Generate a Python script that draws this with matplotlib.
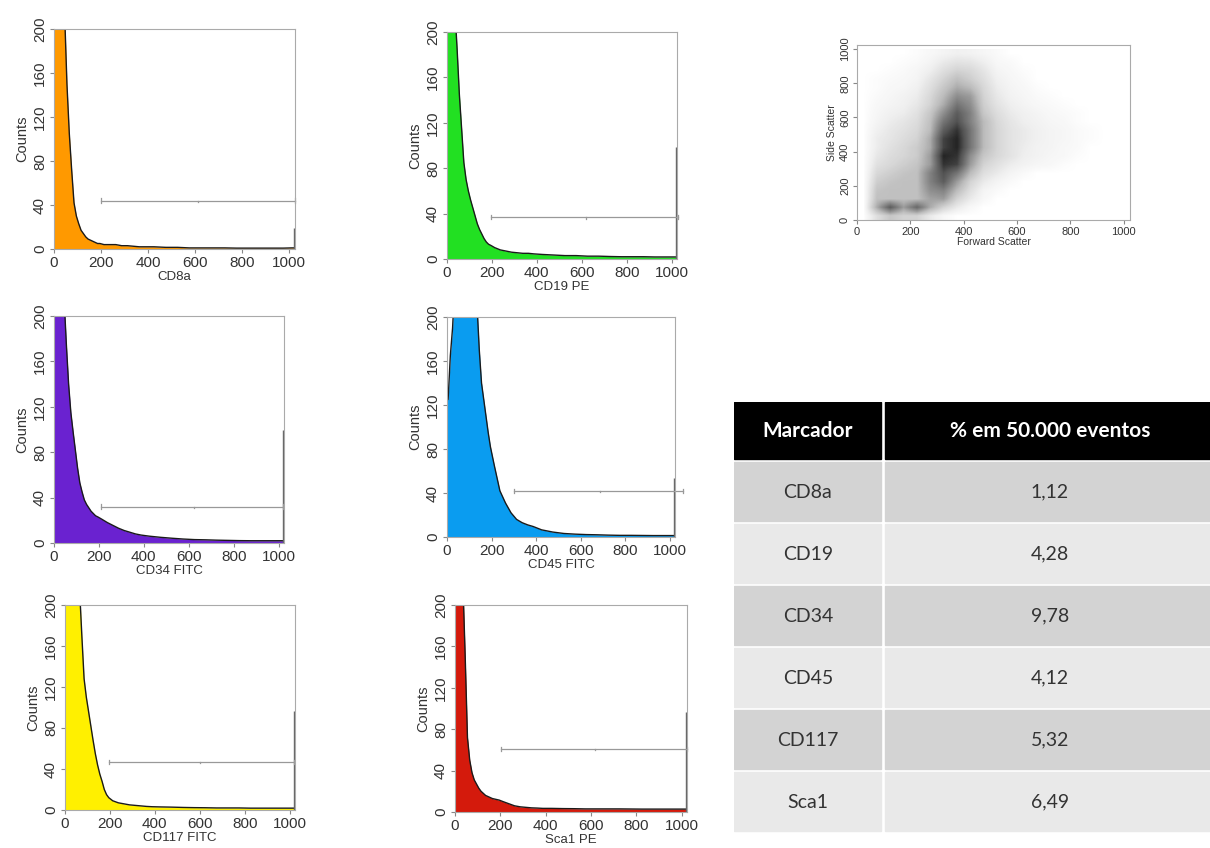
import numpy as np
import matplotlib.pyplot as plt
from matplotlib.patches import Rectangle
from matplotlib.colors import PowerNorm

plt.rcParams['font.family'] = ['Liberation Sans', 'DejaVu Sans']

# histogram bins (channels 0-1024); last narrow bin is the off-scale channel
edges = np.r_[np.arange(0, 200, 10), np.arange(200, 400, 25),
              np.arange(400, 1001, 50), 1020, 1024]

cd8a_counts = [260, 280, 270, 250, 215, 150, 105, 72, 42, 30, 23, 17, 14, 11, 9, 8, 7, 6, 5, 5,
               4, 4, 4, 3, 3, 2.5, 2, 2,
               2, 1.5, 1.5, 1, 1, 1, 1, 0.8, 0.8, 0.8, 0.8, 0.8,
               1, 19]
cd19_counts = [260, 250, 240, 220, 185, 145, 115, 85, 70, 60, 52, 45, 38, 31, 26, 22, 18, 15, 13, 12,
               10, 8, 7, 6, 5.5, 5, 5, 4.5,
               4, 3.5, 3, 3, 2.5, 2.5, 2.2, 2, 2, 2, 1.8, 1.8,
               1.8, 99]
cd34_counts = [270, 270, 260, 240, 215, 175, 140, 115, 98, 82, 66, 53, 45, 38, 34, 31, 28, 26, 24, 23,
               21, 18, 15.5, 13, 11, 9.5, 8, 7,
               6, 5, 4.2, 3.5, 3, 2.8, 2.5, 2.3, 2.1, 2, 2, 2,
               2, 100]
cd45_counts = [125, 165, 190, 230, 260, 270, 275, 275, 270, 265, 255, 240, 225, 210, 170, 140, 125, 110, 95, 82,
               65, 42, 31, 22, 16, 13, 11, 9.5,
               6.5, 4.5, 3.2, 2.6, 2.2, 2, 1.7, 1.5, 1.5, 1.4, 1.3, 1.3,
               1.3, 54]
cd117_counts = [265, 275, 280, 275, 265, 245, 215, 170, 128, 110, 96, 82, 68, 55, 44, 35, 28, 20, 15, 12,
                9, 7, 6, 5, 4.5, 4, 3.5, 3.2,
                3, 2.8, 2.5, 2.3, 2.2, 2, 2, 2, 1.8, 1.8, 1.8, 1.8,
                1.8, 97]
sca1_counts = [260, 250, 240, 220, 150, 72, 50, 38, 31, 27, 23, 20, 18, 16, 15, 14, 13, 12.5, 12, 11.5,
               10, 8, 6, 5, 4.5, 4, 3.8, 3.5,
               3.5, 3.3, 3.2, 3, 3, 3, 3, 2.9, 2.8, 2.8, 2.8, 2.8,
               2.8, 97]

# marker gates: start, end, level, midpoint
cd8a_gate = [200, 1024, 44, 610]
cd19_gate = [195, 1030, 37, 620]
cd34_gate = [208, 1020, 32, 623]
cd45_gate = [300, 1060, 42, 685]
cd117_gate = [195, 1020, 47, 603]
sca1_gate = [204, 1024, 61, 619]

# FSC x SSC event density, 50-channel cells, bottom row first
scatter_density = [
    [0, 1.5, 2.5, 2, 2, 1, 0.3, 0, 0, 0, 0, 0, 0, 0, 0, 0, 0, 0, 0, 0],
    [0, 3.5, 6.5, 4, 6, 3.5, 2, 1, 0.3, 0, 0, 0, 0, 0, 0, 0, 0, 0, 0, 0],
    [0, 2.8, 2.8, 2.8, 2.8, 3.8, 4, 2, 1, 0.3, 0, 0, 0, 0, 0, 0, 0, 0, 0, 0],
    [0, 2.6, 2.8, 2.8, 2.8, 4.5, 5, 3, 1.5, 0.5, 0.2, 0, 0, 0, 0, 0, 0, 0, 0, 0],
    [0, 2.2, 2.6, 2.8, 2.8, 5, 6.5, 4, 2, 1, 0.5, 0.2, 0, 0, 0, 0, 0, 0, 0, 0],
    [0, 1.8, 2.2, 2.6, 2.8, 5, 7, 5.5, 3, 1.5, 1, 0.5, 0.2, 0, 0, 0, 0, 0, 0, 0],
    [0, 1.4, 1.8, 2.2, 2.6, 4, 8, 7.5, 4, 2, 1.4, 0.9, 0.6, 0.4, 0.3, 0.1, 0, 0, 0, 0],
    [0, 1.1, 1.6, 1.9, 2.3, 4, 8.5, 8, 4.5, 2.5, 1.8, 1.3, 0.8, 0.6, 0.4, 0.3, 0.1, 0, 0, 0],
    [0, 0.9, 1.4, 1.8, 2.3, 3.5, 7.5, 8.5, 5.5, 3, 1.9, 1.3, 0.9, 0.6, 0.5, 0.3, 0.2, 0, 0, 0],
    [0, 0.9, 1.2, 1.6, 2, 3.5, 7.5, 8.5, 5.5, 3, 1.9, 1.3, 1, 0.7, 0.5, 0.4, 0.2, 0.1, 0, 0],
    [0, 0.7, 1.1, 1.4, 1.8, 3, 6.5, 8, 5.5, 3, 1.9, 1.3, 1, 0.7, 0.5, 0.4, 0.2, 0.1, 0, 0],
    [0, 0.5, 0.9, 1.2, 1.6, 2.8, 5.5, 7, 5, 3, 1.8, 1.2, 0.8, 0.6, 0.4, 0.3, 0.1, 0, 0, 0],
    [0, 0.4, 0.7, 0.9, 1.4, 2.5, 4.5, 6.5, 5, 2.5, 1.6, 1, 0.7, 0.5, 0.3, 0.2, 0.1, 0, 0, 0],
    [0, 0.3, 0.5, 0.7, 1.1, 2, 3.5, 5.5, 4.5, 2.2, 1.3, 0.8, 0.5, 0.3, 0.2, 0.1, 0, 0, 0, 0],
    [0, 0.2, 0.4, 0.6, 0.9, 1.8, 3, 4.5, 4, 2, 1.1, 0.6, 0.4, 0.2, 0.1, 0, 0, 0, 0, 0],
    [0, 0.1, 0.3, 0.4, 0.7, 1.5, 2.5, 3.5, 3, 1.8, 0.9, 0.5, 0.3, 0.1, 0, 0, 0, 0, 0, 0],
    [0, 0.1, 0.2, 0.3, 0.5, 1.2, 2, 2.8, 2.2, 1.5, 0.7, 0.4, 0.2, 0, 0, 0, 0, 0, 0, 0],
    [0, 0, 0.1, 0.2, 0.4, 0.8, 1.5, 2, 1.8, 1.2, 0.5, 0.3, 0.1, 0, 0, 0, 0, 0, 0, 0],
    [0, 0, 0, 0.1, 0.2, 0.5, 1, 1.3, 1.2, 0.8, 0.3, 0.2, 0, 0, 0, 0, 0, 0, 0, 0],
    [0, 0, 0, 0, 0.1, 0.3, 0.5, 0.7, 0.6, 0.4, 0.2, 0, 0, 0, 0, 0, 0, 0, 0, 0],
]

markers = ['CD8a', 'CD19', 'CD34', 'CD45', 'CD117', 'Sca1']
percent = ['1,12', '4,28', '9,78', '4,12', '5,32', '6,49']

W, H = 1210, 848
fig = plt.figure(figsize=(12.1, 8.48), dpi=100)


def place(x0, y0, x1, y1):
    return fig.add_axes([x0 / W, 1 - y1 / H, (x1 - x0) / W, (y1 - y0) / H])


def style(ax, size=11):
    for s in ax.spines.values():
        s.set_color('#aaaaaa')
        s.set_linewidth(0.8)
    ax.tick_params(labelsize=size, length=3, color='#888888', pad=2, labelcolor='#333333')
    ax.tick_params(axis='y', labelrotation=90)
    for lbl in ax.get_yticklabels():
        lbl.set_va('center')


panels = [
    ('CD8a', cd8a_counts, cd8a_gate, '#ff9900', (54, 29, 295, 249)),
    ('CD19 PE', cd19_counts, cd19_gate, '#22e022', (447, 32, 677, 259)),
    ('CD34 FITC', cd34_counts, cd34_gate, '#6a22d0', (54, 316, 284, 543)),
    ('CD45 FITC', cd45_counts, cd45_gate, '#0a9cf0', (447, 317, 675, 537)),
    ('CD117 FITC', cd117_counts, cd117_gate, '#fff000', (65, 605, 295, 810)),
    ('Sca1 PE', sca1_counts, sca1_gate, '#d41a0c', (455, 605, 687, 812)),
]

centers = (edges[:-1] + edges[1:]) / 2

for label, counts, gate, color, box in panels:
    ax = place(*box)
    c = np.array(counts, dtype=float)
    # body of the histogram through bin centres, off-scale channel as a bar
    x = np.r_[0, centers[:-1], 1020]
    y = np.r_[c[0], c[:-1], c[-2]]
    ax.fill_between(x, y, color=color, lw=0)
    ax.plot(x, y, color='#1a1a1a', lw=1.0)
    ax.vlines(1021, 0, c[-1], color='#666666', lw=1.0)
    s, e, lvl, mid = gate
    g = dict(color='#999999', lw=0.9, clip_on=False)
    ax.plot([s, e], [lvl, lvl], **g)
    ax.plot([s, s], [lvl - 2, lvl + 2], **g)
    ax.plot([e, e], [lvl - 2, lvl + 2], **g)
    ax.plot([mid, mid], [lvl - 1.5, lvl], **g)
    ax.set_xlim(0, 1024)
    ax.set_ylim(0, 200)
    ax.set_xticks(range(0, 1001, 200))
    ax.set_yticks(range(0, 201, 40))
    style(ax)
    ax.set_ylabel('Counts', fontsize=10.5, labelpad=3, color='#333333')
    ax.set_xlabel(label, fontsize=9.5, labelpad=1, color='#333333')

# forward vs side scatter density
ax = place(857, 45, 1130, 220)
ax.imshow(np.array(scatter_density), origin='lower', extent=[0, 1000, 0, 1000],
          cmap='Greys', norm=PowerNorm(gamma=0.8, vmin=0, vmax=10),
          interpolation='bilinear', aspect='auto')
ax.set_xlim(0, 1024)
ax.set_ylim(0, 1024)
ax.set_xticks(range(0, 1001, 200))
ax.set_yticks(range(0, 1001, 200))
style(ax, size=8)
ax.set_xlabel('Forward Scatter', fontsize=7.5, labelpad=0, color='#333333')
ax.set_ylabel('Side Scatter', fontsize=7.5, labelpad=2, color='#333333')

# summary table
tab = place(734, 402, 1215, 834)
tab.set_xlim(734, 1215)
tab.set_ylim(834, 402)
tab.axis('off')
tf = ['Lato', 'DejaVu Sans']
tab.add_patch(Rectangle((734, 402), 147, 57, color='black'))
tab.add_patch(Rectangle((885, 402), 330, 57, color='black'))
tab.text(808, 431, 'Marcador', ha='center', va='center', color='white',
         fontsize=15, fontweight='bold', family=tf)
tab.text(1050, 431, '% em 50.000 eventos', ha='center', va='center', color='white',
         fontsize=15, fontweight='bold', family=tf)
for i, (m, p) in enumerate(zip(markers, percent)):
    top = 462 + 62 * i
    shade = '#d3d3d3' if i % 2 == 0 else '#e9e9e9'
    tab.add_patch(Rectangle((734, top), 147, 59, color=shade))
    tab.add_patch(Rectangle((885, top), 330, 59, color=shade))
    tab.text(808, top + 30, m, ha='center', va='center', color='#333333', fontsize=14, family=tf)
    tab.text(1050, top + 30, p, ha='center', va='center', color='#333333', fontsize=14, family=tf)

fig.savefig('out.png', dpi=100)
